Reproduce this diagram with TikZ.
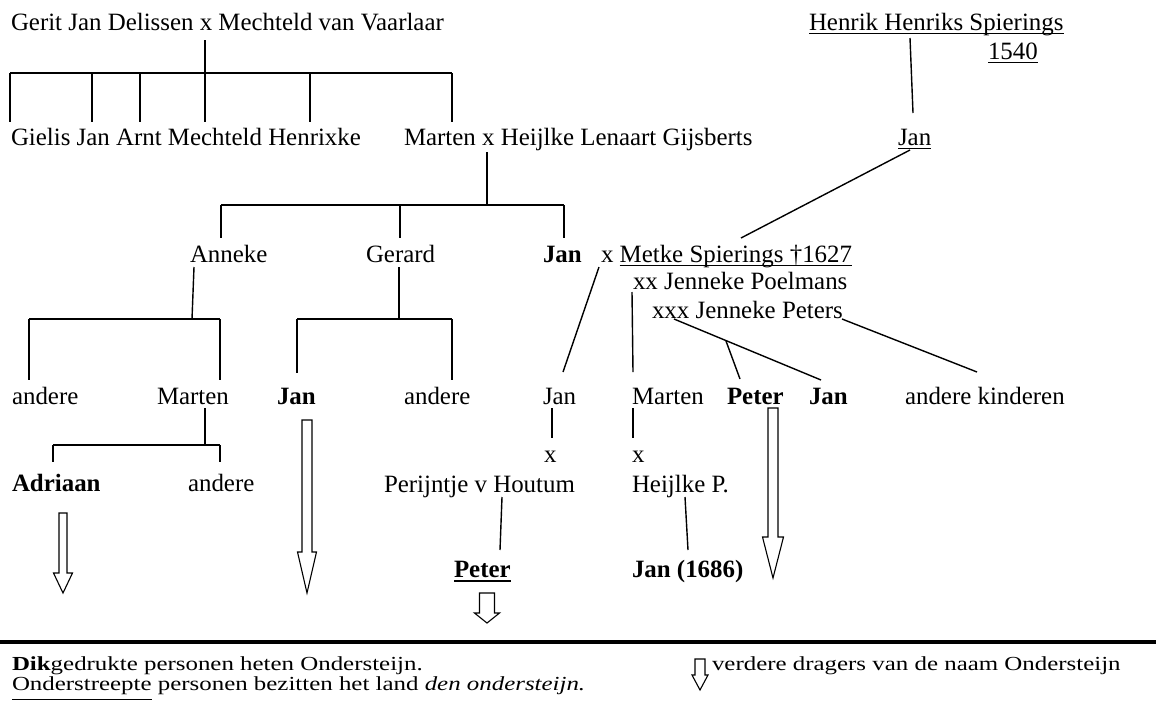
\documentclass[tikz,border=0pt]{standalone}
\usepackage{fontspec}
\setmainfont{Liberation Serif}
\newsavebox{\onderdoos}
\newcommand{\onderstreept}[2][1.9pt]{\sbox{\onderdoos}{#2}\rlap{\rule[-#1]{\wd\onderdoos}{0.5pt}}\usebox{\onderdoos}}
\newcommand{\dikonderstreept}[1]{\sbox{\onderdoos}{#1}\rlap{\rule[-2.6pt]{\wd\onderdoos}{1.1pt}}\usebox{\onderdoos}}
\tikzset{pics/pijl/.style args={#1/#2/#3/#4}{code={%
  \draw[pijlrand] (-#1,0) -- (#1,0) -- (#1,#3) -- (#2,#3) -- (0,#4) -- (-#2,#3) -- (-#1,#3) -- cycle;}}}
\begin{document}
\begin{tikzpicture}[x=0.5pt,y=-0.5pt,line width=0.7pt,
persoon/.style={anchor=base west,inner sep=0pt,outer sep=0pt,font=\fontsize{12.45pt}{15pt}\selectfont},
legenda/.style={persoon,yscale=0.8},
pijlrand/.style={line width=0.55pt,line join=miter}]
\useasboundingbox (0,0) rectangle (1156,702);
% generatie 1
\draw (11,30) node[persoon] (gerit) {Gerit Jan Delissen x Mechteld van Vaarlaar};
\draw (809,30) node[persoon] (henrik) {\onderstreept{Henrik Henriks Spierings}};
\draw (988,59) node[persoon] (henrikjaar) {\onderstreept{1540}};
% generatie 2
\draw (11,145) node[persoon] (gielis) {Gielis Jan Arnt Mechteld Henrixke};
\draw (404,145) node[persoon] (marten) {Marten x Heijlke Lenaart Gijsberts};
\draw (898,145) node[persoon] (janspier) {\onderstreept{Jan}};
% generatie 3
\draw (190,262) node[persoon] (anneke) {Anneke};
\draw (366,262) node[persoon] (gerard) {Gerard};
\draw (543,262) node[persoon] (jan) {\textbf{Jan}};
\draw (601,262) node[persoon] (metke) {x \onderstreept{Metke Spierings \textdagger1627}};
\draw (633,289) node[persoon] (poelmans) {xx Jenneke Poelmans};
\draw (652,318) node[persoon] (peters) {xxx Jenneke Peters};
% generatie 4
\draw (12,404) node[persoon] (annekeandere) {andere};
\draw (157,404) node[persoon] (annekemarten) {Marten};
\draw (277,404) node[persoon] (gerardjan) {\textbf{Jan}};
\draw (404,404) node[persoon] (gerardandere) {andere};
\draw (543,404) node[persoon] (metkejan) {Jan};
\draw (632,404) node[persoon] (poelmansmarten) {Marten};
\draw (727,404) node[persoon] (peterspeter) {\textbf{Peter}};
\draw (809,404) node[persoon] (petersjan) {\textbf{Jan}};
\draw (905,404) node[persoon] (petersandere) {andere kinderen};
% generatie 5
\draw (544,462) node[persoon] (janx) {x};
\draw (632,462) node[persoon] (martenx) {x};
\draw (12,491) node[persoon] (adriaan) {\textbf{Adriaan}};
\draw (188,491) node[persoon] (martenandere) {andere};
\draw (384,492) node[persoon] (perijntje) {Perijntje v Houtum};
\draw (632,492) node[persoon] (heijlke) {Heijlke P.};
\draw (454,577) node[persoon] (peter) {\dikonderstreept{\textbf{Peter}}};
\draw (632,577) node[persoon] (jan1686) {\textbf{Jan (1686)}};
% legenda
\draw (12,670) node[legenda] (dik) {\textbf{Dik}gedrukte personen heten Ondersteijn.};
\draw (12,690) node[legenda] (onder) {\onderstreept[6pt]{Onderstreepte} personen bezitten het land \textit{den ondersteijn.}};
\draw (712,670) node[legenda] (verder) {verdere dragers van de naam Ondersteijn};
% aanknopingspunten
\coordinate (gerit-s) at (205,40);
\foreach \x/\n in {10/1,92/2,140/3,205/4,310/5,452/6} \coordinate (gk\n) at (\x,73);
\coordinate (marten-s) at (487,152);
\foreach \x/\n in {221/1,400/2,564/3} \coordinate (mk\n) at (\x,205);
\coordinate (henrik-s) at (910,38);
\coordinate (janspier-n) at (913,113);
\coordinate (janspier-s) at (910,150);
\coordinate (metke-n) at (741,238);
\coordinate (anneke-s) at (194,267);
\coordinate (ak1) at (29,319);
\coordinate (ak2) at (220,319);
\coordinate (ak0) at (192,319);
\coordinate (gerard-s) at (399,267);
\coordinate (rk1) at (297,319);
\coordinate (rk2) at (452,319);
\coordinate (rk0) at (399,319);
\coordinate (jan-s) at (599,267);
\coordinate (metkejan-n) at (563,372);
\coordinate (poelmans-s) at (632,292);
\coordinate (poelmansmarten-n) at (633,372);
\coordinate (peters-s) at (674,319);
\coordinate (petersjan-n) at (821,380);
\coordinate (peterstak) at (726,341);
\coordinate (peterspeter-n) at (740,379);
\coordinate (peters-e) at (842,319);
\coordinate (petersandere-n) at (977,372);
\coordinate (annekemarten-s) at (205,408);
\coordinate (amk1) at (53,445);
\coordinate (amk2) at (220,445);
\coordinate (amk0) at (205,445);
\coordinate (metkejan-s) at (552,408);
\coordinate (janx-n) at (552,438);
\coordinate (poelmansmarten-s) at (633,408);
\coordinate (martenx-n) at (633,438);
\coordinate (perijntje-s) at (502,497);
\coordinate (peter-n) at (500,550);
\coordinate (heijlke-s) at (685,497);
\coordinate (jan1686-n) at (688,550);
% lijnen
\draw (gerit-s) -- (gk4);
\draw (gk1) -- (gk6);
\foreach \n in {1,...,6} \draw (gk\n) -- ++(0,49);
\draw (marten-s) -- ++(0,53);
\draw (mk1) -- (mk3);
\foreach \n in {1,2,3} \draw (mk\n) -- ++(0,33);
\draw (henrik-s) -- (janspier-n);
\draw (janspier-s) -- (metke-n);
\draw (anneke-s) -- (ak0);
\draw (ak1) -- (ak2);
\foreach \n in {1,2} \draw (ak\n) -- ++(0,61);
\draw (gerard-s) -- (rk0);
\draw (rk1) -- (rk2);
\draw (rk1) -- ++(0,54);
\draw (rk2) -- ++(0,61);
\draw (jan-s) -- (metkejan-n);
\draw (poelmans-s) -- (poelmansmarten-n);
\draw (peters-s) -- (petersjan-n);
\draw (peterstak) -- (peterspeter-n);
\draw (peters-e) -- (petersandere-n);
\draw (annekemarten-s) -- (amk0);
\draw (amk1) -- (amk2);
\foreach \n in {1,2} \draw (amk\n) -- ++(0,17);
\draw (metkejan-s) -- (janx-n);
\draw (poelmansmarten-s) -- (martenx-n);
\draw (perijntje-s) -- (peter-n);
\draw (heijlke-s) -- (jan1686-n);
% naamdragers
\pic at (63,513) {pijl=4/9.5/60/80};
\pic at (307,420) {pijl=5/9.5/132/173};
\pic at (773,408) {pijl=5/10.5/129/170};
\pic at (487,593) {pijl=7.5/12.5/20/30};
\pic at (700,659) {pijl=5/8/16/31};
% scheidingslijn
\draw[line width=1.6pt] (0,642) -- (1156,642);
\end{tikzpicture}
\end{document}
